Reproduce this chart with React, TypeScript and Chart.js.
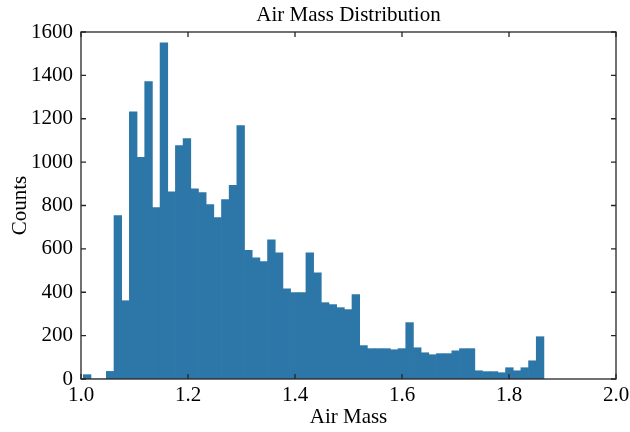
import React, { useEffect, useRef } from "react";
import { Chart, registerables } from "chart.js";

Chart.register(...registerables);

// Histogram bins (60 equal bins)
const binStart = 1.0043;
const binWidth = 0.01435;
const counts = [
  20, 0, 0, 35, 753, 361, 1232, 1022, 1371, 790,
  1550, 863, 1076, 1109, 877, 859, 804, 744, 827, 893,
  1168, 593, 559, 541, 642, 582, 416, 398, 398, 582,
  490, 352, 343, 329, 320, 389, 154, 140, 140, 140,
  135, 140, 260, 144, 121, 112, 117, 117, 130, 140,
  140, 38, 34, 34, 29, 52, 38, 52, 84, 195,
];
const xTicks = [1.0, 1.2, 1.4, 1.6, 1.8, 2.0];
const yTicks = [0, 200, 400, 600, 800, 1000, 1200, 1400, 1600];
const titleText = "Air Mass Distribution";

const FONT = "'Liberation Serif', 'Times New Roman', serif";
const FS = 21;

const frameTicks = {
  id: "frameTicks",
  afterDraw(chart: any) {
    const { ctx, chartArea, scales } = chart;
    const { left, right, top, bottom } = chartArea;
    const x = scales.x;
    const y = scales.y;
    ctx.save();
    ctx.strokeStyle = "#262626";
    ctx.lineWidth = 1.3;
    ctx.beginPath();
    const L = 5;
    xTicks.forEach((v) => {
      const px = x.getPixelForValue(v);
      ctx.moveTo(px, bottom);
      ctx.lineTo(px, bottom - L);
      ctx.moveTo(px, top);
      ctx.lineTo(px, top + L);
    });
    yTicks.forEach((v) => {
      const py = y.getPixelForValue(v);
      ctx.moveTo(left, py);
      ctx.lineTo(left + L, py);
      ctx.moveTo(right, py);
      ctx.lineTo(right - L, py);
    });
    ctx.stroke();
    ctx.strokeRect(left, top, right - left, bottom - top);
    // title centred over the plot area
    ctx.fillStyle = "#000";
    ctx.font = `${FS}px ${FONT}`;
    ctx.textAlign = "center";
    ctx.textBaseline = "middle";
    ctx.fillText(titleText, (left + right) / 2, 15);
    ctx.restore();
  },
};

export default function App() {
  const ref = useRef<HTMLCanvasElement | null>(null);
  useEffect(() => {
    if (!ref.current) return;
    const data = counts.map((c, i) => ({ x: binStart + (i + 0.5) * binWidth, y: c }));
    const chart = new Chart(ref.current, {
      type: "bar",
      data: {
        datasets: [
          {
            label: "Counts",
            data,
            backgroundColor: "#2c76a8",
            borderWidth: 0,
            barPercentage: 1,
            categoryPercentage: 1,
            grouped: false,
          } as any,
        ],
      },
      options: {
        responsive: false,
        animation: false,
        layout: { padding: { left: 0, right: 0, top: 32, bottom: 0 } },
        plugins: {
          legend: { display: false },
          tooltip: { enabled: false },
          title: { display: false },
        },
        scales: {
          x: {
            type: "linear",
            min: 1.0,
            max: 2.0,
            offset: false,
            grid: { display: false, drawTicks: false },
            border: { display: false },
            ticks: {
              stepSize: 0.2,
              color: "#000",
              padding: 4,
              font: { family: FONT, size: FS },
              maxRotation: 0,
              callback: (v: any) => Number(v).toFixed(1),
            },
            title: {
              display: true,
              text: "Air Mass",
              color: "#000",
              font: { family: FONT, size: FS, lineHeight: 1.0 },
              padding: { top: 0, bottom: 4 },
            },
            afterFit: (s: any) => {
              s.height = 53;
              s.paddingRight = 14;
              s.paddingLeft = 0;
            },
          },
          y: {
            min: 0,
            max: 1600,
            grid: { display: false, drawTicks: false },
            border: { display: false },
            ticks: {
              stepSize: 200,
              color: "#000",
              padding: 8,
              font: { family: FONT, size: FS },
              callback: (v: any) => String(v),
            },
            title: {
              display: true,
              text: "Counts",
              color: "#000",
              font: { family: FONT, size: FS, lineHeight: 1.0 },
              padding: { top: 10, bottom: 0 },
            },
            afterFit: (s: any) => {
              s.width = 81;
              s.paddingTop = 0;
              s.paddingBottom = 0;
            },
          },
        },
      },
      plugins: [frameTicks],
    });
    return () => chart.destroy();
  }, []);
  return (
    <div style={{ position: "fixed", left: 0, top: 0, width: 630, height: 432, background: "#fff" }}>
      <canvas ref={ref} width={630} height={432} style={{ width: 630, height: 432 }} />
    </div>
  );
}
